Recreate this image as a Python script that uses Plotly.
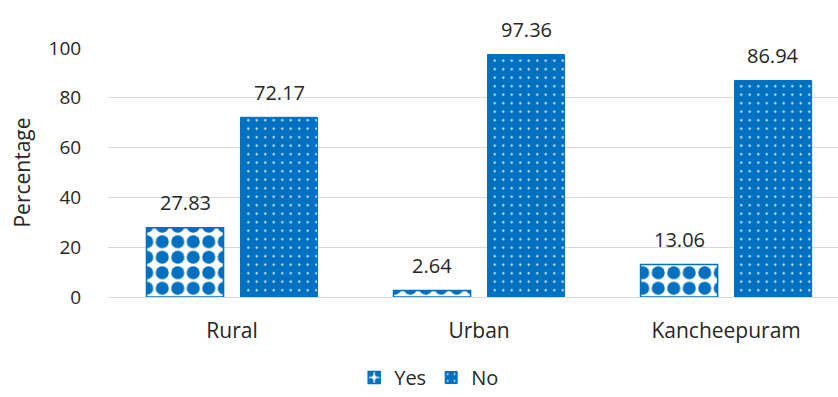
import plotly.graph_objects as go

categories = ["Rural", "Urban", "Kancheepuram"]
yes_values = [27.83, 2.64, 13.06]
no_values = [72.17, 97.36, 86.94]
series_names = ["Yes", "No"]
y_ticks = [0, 20, 40, 60, 80, 100]

BLUE = "#0070C0"
FONT = "Open Sans"
TEXT = "#262626"

fig = go.Figure()

fig.add_trace(go.Bar(
    name=series_names[0], x=categories, y=yes_values,
    marker=dict(
        color="white",
        line=dict(color=BLUE, width=1.5),
        pattern=dict(shape=".", fgcolor=BLUE, bgcolor="white",
                     size=15.5, solidity=0.56, fillmode="replace"),
    ),
))
fig.add_trace(go.Bar(
    name=series_names[1], x=categories, y=no_values,
    marker=dict(
        color=BLUE,
        line=dict(color=BLUE, width=1),
        pattern=dict(shape=".", fgcolor="white", bgcolor=BLUE,
                     size=8.5, solidity=0.05, fillmode="replace"),
    ),
))

# value labels above each bar
for vals, shift in ((yes_values, -47), (no_values, 47)):
    for cat, v in zip(categories, vals):
        fig.add_annotation(
            x=cat, y=v, xref="x", yref="y", text=f"{v:.2f}",
            showarrow=False, xshift=shift, yshift=25, yanchor="middle",
            font=dict(family=FONT, size=20, color=TEXT),
        )

fig.update_layout(
    width=838, height=397,
    margin=dict(l=108, r=0, t=48, b=100, autoexpand=False),
    plot_bgcolor="white", paper_bgcolor="white",
    barmode="group", bargap=0.239, bargroupgap=0.18,
    font=dict(family=FONT, color=TEXT),
    legend=dict(orientation="h", x=0.44, xanchor="center",
                yref="container", y=0, yanchor="bottom",
                font=dict(family=FONT, size=20, color=TEXT),
                itemwidth=30, traceorder="normal",
                bgcolor="rgba(0,0,0,0)"),
)
fig.update_xaxes(
    range=[-0.502, 2.453], showgrid=False, showline=False, zeroline=False,
    ticks="outside", ticklen=0, ticklabelstandoff=15,
    tickfont=dict(family=FONT, size=21, color=TEXT),
)
fig.update_yaxes(
    range=[0, 100], tickvals=y_ticks, showgrid=True, gridcolor="#D9D9D9",
    gridwidth=1, zeroline=True, zerolinecolor="#D9D9D9", zerolinewidth=1,
    showline=False, ticks="outside", ticklen=0, ticklabelstandoff=22,
    tickfont=dict(family=FONT, size=19, color=TEXT),
    title=dict(text="Percentage", standoff=12,
               font=dict(family=FONT, size=21, color=TEXT)),
)

fig.write_html("out.html")
